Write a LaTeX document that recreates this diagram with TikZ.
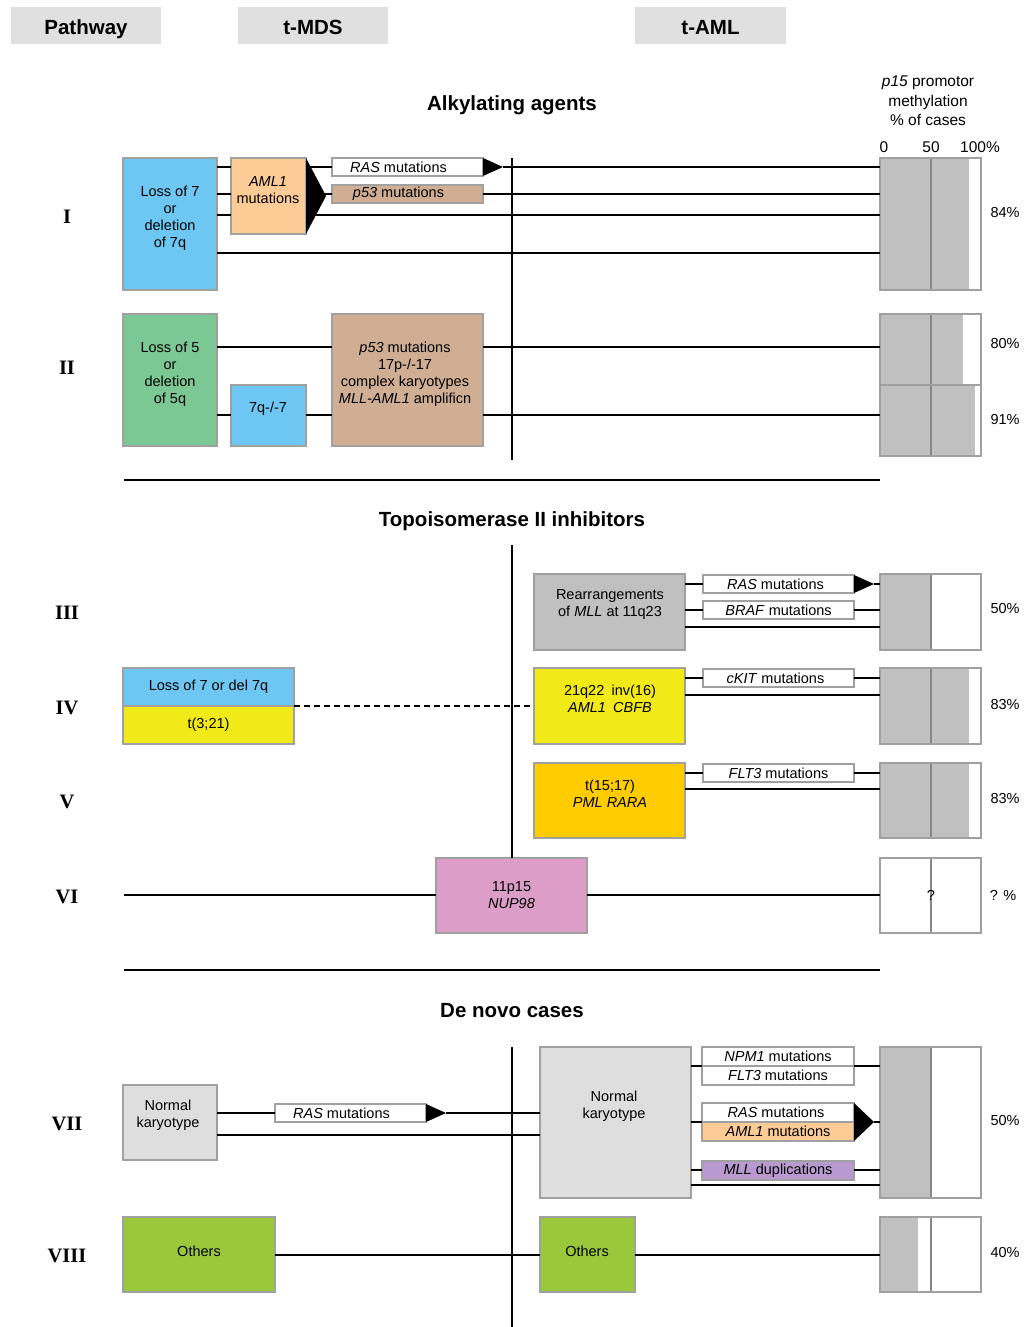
\documentclass[tikz,border=0pt]{standalone}
\usepackage{fontspec}
\setmainfont{Liberation Sans}
\newfontfamily\romfont{Liberation Serif}
\usetikzlibrary{calc}
\definecolor{hdr}{RGB}{224,224,224}
\definecolor{cblue}{RGB}{110,199,242}
\definecolor{corange}{RGB}{253,203,150}
\definecolor{ctan}{RGB}{208,174,148}
\definecolor{cgreen}{RGB}{124,200,148}
\definecolor{cgray}{RGB}{192,192,192}
\definecolor{cyellow}{RGB}{242,234,24}
\definecolor{cgold}{RGB}{255,204,0}
\definecolor{cpink}{RGB}{220,158,200}
\definecolor{clgray}{RGB}{222,222,222}
\definecolor{cpurple}{RGB}{184,154,208}
\definecolor{clime}{RGB}{153,201,58}
\definecolor{bordergray}{RGB}{160,160,160}
\definecolor{bargray}{RGB}{192,192,192}
\definecolor{divgray}{RGB}{135,135,135}
\tikzset{
  box/.style={draw=bordergray, line width=1.1pt, inner sep=0pt, outer sep=0pt, align=center, font={\fontsize{14.5}{17}\selectfont}},
  txt/.style={inner sep=0pt, align=center, font={\fontsize{14.5}{17}\selectfont}},
  hdrbox/.style={fill=hdr, inner sep=0pt, outer sep=0pt},
  hdrtxt/.style={inner sep=0pt, font={\fontsize{20.5}{24}\selectfont\bfseries}},
  title/.style={inner sep=0pt, font={\fontsize{20.5}{24}\selectfont\bfseries}},
  rowlab/.style={inner sep=0pt, font={\fontsize{20.5}{24}\selectfont\romfont\bfseries}},
  conn/.style={line width=1.8pt, black},
  thickline/.style={line width=2.6pt, black},
  divider/.style={line width=1.1pt, divgray},
  tip/.style={fill=black},
}
\newcommand\bx[7]{\node[box,#6,minimum width={#4-#2},minimum height={#5-#3}] (#1) at ({(#2+#4)/2},{(#3+#5)/2}) {#7};}
\newcommand\hcon[3]{\draw[conn] (#1.east |- 0,#3) -- (#2.west |- 0,#3);}
\newcommand\pbar[6]{%
  \fill[bargray] (#2,#3) rectangle (#6,#5);
  \draw[divider] (931,#3) -- (931,#5);
  \node[box,minimum width={#4-#2},minimum height={#5-#3}] (#1) at ({(#2+#4)/2},{(#3+#5)/2}) {};}
\begin{document}
\begin{tikzpicture}[x=1pt,y=-1pt]
\useasboundingbox[fill=white] (0,0) rectangle (1027,1327);
% headers
\node[hdrbox,minimum width=150,minimum height=37] (hPath) at (86,25.5) {};
\node[hdrbox,minimum width=150,minimum height=37] (hMDS) at (313,25.5) {};
\node[hdrbox,minimum width=151,minimum height=37] (hAML) at (710.5,25.5) {};
\node[hdrtxt] (hPatht) at (86,29.5) {Pathway};
\node[hdrtxt] (hMDSt) at (313,27.5) {t-MDS};
\node[hdrtxt] (hAMLt) at (710.5,27.5) {t-AML};
% titles
\node[title] (tAlk) at (512,105) {Alkylating agents};
\node[title] (tTopo) at (512,521) {Topoisomerase II inhibitors};
\node[title] (tDeNovo) at (512,1011) {De novo cases};
\node[inner sep=0pt,align=center,font={\fontsize{15.5}{19.5}\selectfont}] (p15) at (928,101) {\textit{p15} promotor\\methylation\\\% of cases};
\node[inner sep=0pt,font={\fontsize{15.5}{18}\selectfont}] (ax0) at (884,147) {0};
\node[inner sep=0pt,font={\fontsize{15.5}{18}\selectfont}] (ax50) at (931,147) {50};
\node[inner sep=0pt,font={\fontsize{15.5}{18}\selectfont}] (ax100) at (980,147) {100\%};
% row labels
\node[rowlab] (rI) at (67,217) {I};
\node[rowlab] (rII) at (67,368) {II};
\node[rowlab] (rIII) at (67,613) {III};
\node[rowlab] (rIV) at (67,708) {IV};
\node[rowlab] (rV) at (67,802) {V};
\node[rowlab] (rVI) at (67,897) {VI};
\node[rowlab] (rVII) at (67,1124) {VII};
\node[rowlab] (rVIII) at (67,1256) {VIII};
% percentages
\node[txt] (pI) at (1005,213) {84\%};
\node[txt] (pIIa) at (1005,344) {80\%};
\node[txt] (pIIb) at (1005,420) {91\%};
\node[txt] (pIII) at (1005,609) {50\%};
\node[txt] (pIV) at (1005,704) {83\%};
\node[txt] (pV) at (1005,798) {83\%};
\node[txt] (pVI) at (1003,895) {? \%};
\node[txt] (pVII) at (1005,1120) {50\%};
\node[txt] (pVIII) at (1005,1252) {40\%};
% separators and vertical lines
\coordinate (v1a) at (512,158); \coordinate (v1b) at (512,460);
\coordinate (v2a) at (512,545);
\coordinate (v3a) at (512,1047); \coordinate (v3b) at (512,1327);
\coordinate (s1a) at (124,480); \coordinate (s1b) at (880,480);
\coordinate (s2a) at (124,970); \coordinate (s2b) at (880,970);
\draw[thickline] (s1a) -- (s1b);
\draw[thickline] (s2a) -- (s2b);
\draw[thickline] (v1a) -- (v1b);
\draw[thickline] (v3a) -- (v3b);
% ===== Row I =====
\bx{b7}{123}{158}{217}{290}{fill=cblue}{}
\node[txt] (b7t) at (170,218) {Loss of 7\\or\\deletion\\of 7q};
\bx{aml1}{231}{158}{306}{234}{fill=corange}{}
\node[txt] (aml1t) at (268,190) {\textit{AML1}\\mutations};
\bx{ras1}{332}{158}{483}{176}{fill=white}{\textit{RAS} mutations\hspace{18pt}}
\bx{p53a}{332}{185}{483}{203}{fill=ctan}{\textit{p53} mutations\hspace{18pt}}
\pbar{bar1}{880}{158}{981}{290}{969}
\hcon{b7}{aml1}{167}\hcon{b7}{aml1}{194}\hcon{b7}{aml1}{215}
\hcon{aml1}{ras1}{167}\hcon{aml1}{p53a}{194}\hcon{aml1}{bar1}{215}
\hcon{b7}{bar1}{253}\hcon{p53a}{bar1}{194}
\coordinate (ras1tip) at ($(ras1.east)+(20,0)$);
\draw[conn] (ras1tip) -- (bar1.west |- ras1tip);
\fill[tip] (aml1.north east) -- ($(aml1.east)+(20,0)$) -- (aml1.south east) -- cycle;
\fill[tip] (ras1.north east) -- (ras1tip) -- (ras1.south east) -- cycle;
% ===== Row II =====
\bx{b5}{123}{314}{217}{446}{fill=cgreen}{}
\node[txt] (b5t) at (170,374) {Loss of 5\\or\\deletion\\of 5q};
\bx{q7}{231}{385}{306}{446}{fill=cblue}{}
\node[txt] (q7t) at (268,409) {7q-/-7};
\bx{p53b}{332}{314}{483}{446}{fill=ctan}{}
\node[txt] (p53bt) at (405,374) {\textit{p53} mutations\\17p-/-17\\complex karyotypes\\\textit{MLL-AML1} amplificn};
\pbar{bar2a}{880}{314}{981}{385}{963}
\pbar{bar2b}{880}{385}{981}{456}{975}
\hcon{b5}{p53b}{347}\hcon{p53b}{bar2a}{347}
\hcon{b5}{q7}{415}\hcon{q7}{p53b}{415}\hcon{p53b}{bar2b}{415}
% ===== Row III =====
\bx{mll}{534}{574}{685}{650}{fill=cgray}{}
\node[txt] (mllt) at (610,605) {Rearrangements\\of \textit{MLL} at 11q23};
\bx{ras3}{703}{575}{854}{593}{fill=white}{\textit{RAS} mutations\hspace{6pt}}
\bx{braf}{703}{601}{854}{619}{fill=white}{\textit{BRAF} mutations}
\pbar{bar3}{880}{574}{981}{650}{931}
\hcon{mll}{ras3}{584}\hcon{mll}{braf}{610}\hcon{braf}{bar3}{610}\hcon{mll}{bar3}{627}
\coordinate (ras3tip) at ($(ras3.east)+(20,0)$);
\draw[conn] (ras3tip) -- (bar3.west |- ras3tip);
\fill[tip] (ras3.north east) -- (ras3tip) -- (ras3.south east) -- cycle;
% ===== Row IV =====
\bx{l7}{123}{668}{294}{706}{fill=cblue}{Loss of 7 or del 7q}
\bx{t321}{123}{706}{294}{744}{fill=cyellow}{t(3;21)}
\bx{cbf}{534}{668}{685}{744}{fill=cyellow}{}
\node[txt] (cbft) at (610,699) {21q22\enspace inv(16)\\\textit{AML1\enspace CBFB}};
\bx{ckit}{703}{669}{854}{687}{fill=white}{\textit{cKIT} mutations\hspace{6pt}}
\pbar{bar4}{880}{668}{981}{744}{969}
\draw[conn,line width=1.5pt,dash pattern=on 6pt off 4pt] (t321.north east) -- (cbf.west |- t321.north east);
\hcon{cbf}{ckit}{678}\hcon{ckit}{bar4}{678}\hcon{cbf}{bar4}{695}
% ===== Row V =====
\bx{pml}{534}{763}{685}{838}{fill=cgold}{}
\node[txt] (pmlt) at (610,794) {t(15;17)\\\textit{PML RARA}};
\bx{flt3}{703}{764}{854}{782}{fill=white}{\textit{FLT3} mutations}
\pbar{bar5}{880}{763}{981}{838}{969}
\hcon{pml}{flt3}{773}\hcon{flt3}{bar5}{773}\hcon{pml}{bar5}{789}
% ===== Row VI =====
\bx{nup}{436}{858}{587}{933}{fill=cpink}{11p15\\\textit{NUP98}}
\pbar{bar6}{880}{858}{981}{933}{880}
\node[txt] (q6) at (931,895) {?};
\coordinate (r6start) at (124,895);
\draw[conn] (r6start) -- (nup.west |- r6start);
\hcon{nup}{bar6}{895}
\draw[thickline] (v2a) -- (nup.north -| v2a);
% ===== Row VII =====
\bx{nk1}{123}{1085}{217}{1160}{fill=clgray}{}
\node[txt] (nk1t) at (168,1115) {Normal\\karyotype};
\bx{ras7a}{275}{1104}{426}{1122}{fill=white}{\textit{RAS} mutations\hspace{18pt}}
\bx{nk2}{540}{1047}{691}{1198}{fill=clgray}{}
\node[txt] (nk2t) at (614,1106) {Normal\\karyotype};
\bx{npm1}{702}{1047}{854}{1066}{fill=white}{\textit{NPM1} mutations}
\bx{flt7}{702}{1066}{854}{1085}{fill=white}{\textit{FLT3} mutations}
\bx{ras7b}{702}{1103}{854}{1122}{fill=white}{\textit{RAS} mutations\hspace{4pt}}
\bx{aml7}{702}{1122}{854}{1141}{fill=corange}{\textit{AML1} mutations}
\bx{mlld}{702}{1161}{854}{1180}{fill=cpurple}{\textit{MLL} duplications}
\pbar{bar7}{880}{1047}{981}{1198}{931}
\hcon{nk1}{ras7a}{1113}\hcon{nk1}{nk2}{1135}
\coordinate (ras7atip) at ($(ras7a.east)+(20,0)$);
\draw[conn] (ras7atip) -- (nk2.west |- ras7atip);
\fill[tip] (ras7a.north east) -- (ras7atip) -- (ras7a.south east) -- cycle;
\hcon{nk2}{npm1}{1066}\hcon{npm1}{bar7}{1066}
\hcon{nk2}{ras7b}{1122}
\coordinate (ras7btip) at ($(ras7b.south east)+(20,0)$);
\draw[conn] (ras7btip) -- (bar7.west |- ras7btip);
\fill[tip] (ras7b.north east) -- (ras7btip) -- (aml7.south east) -- cycle;
\hcon{nk2}{mlld}{1170}\hcon{mlld}{bar7}{1170}
\hcon{nk2}{bar7}{1185}
% ===== Row VIII =====
\bx{oth1}{123}{1217}{275}{1292}{fill=clime}{}
\node[txt] (oth1t) at (199,1251) {Others};
\bx{oth2}{540}{1217}{635}{1292}{fill=clime}{}
\node[txt] (oth2t) at (587,1251) {Others};
\pbar{bar8}{880}{1217}{981}{1292}{918}
\hcon{oth1}{oth2}{1255}\hcon{oth2}{bar8}{1255}
\end{tikzpicture}
\end{document}
